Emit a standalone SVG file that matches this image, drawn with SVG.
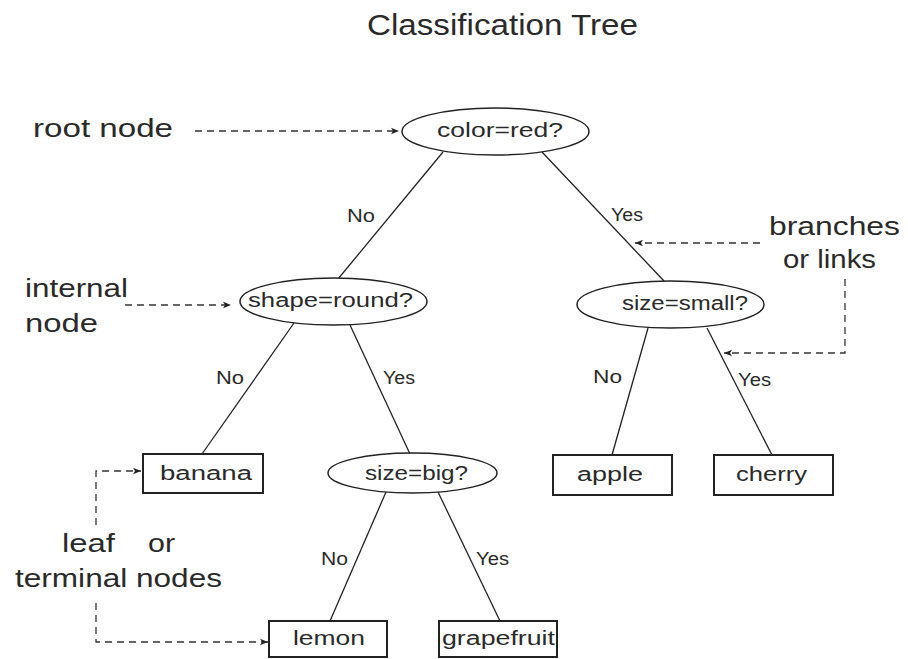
<svg xmlns="http://www.w3.org/2000/svg" width="908" height="659" viewBox="0 0 908 659">
  <defs>
    <marker id="arrow" viewBox="0 0 10 10" refX="10" refY="5" markerWidth="8" markerHeight="8" markerUnits="userSpaceOnUse" orient="auto">
      <path d="M0,1 L10,5 L0,9 L2.5,5 Z" fill="#222"/>
    </marker>
    <style>
      text { font-family: "Liberation Sans", Arial, sans-serif; fill: #2a2a2a; }
      .title { font-size: 29px; }
      .note { font-size: 25px; }
      .node-text { font-size: 20px; }
      .edge-text { font-size: 18px; }
      .decision { fill: #fff; stroke: #222; stroke-width: 1.5; }
      .leaf { fill: #fff; stroke: #222; stroke-width: 2; }
      .branch { stroke: #222; stroke-width: 1.3; fill: none; }
      .pointer { stroke: #333; stroke-width: 1.3; fill: none; stroke-dasharray: 7 5; marker-end: url(#arrow); }
    </style>
  </defs>

  <rect width="908" height="659" fill="#fff"/>

  <text class="title" x="367" y="35" textLength="271" lengthAdjust="spacingAndGlyphs">Classification Tree</text>

  <!-- tree branches -->
  <g id="connectors">
    <line class="branch" x1="443" y1="152" x2="338" y2="279"/>
    <line class="branch" x1="542" y1="152" x2="664" y2="281"/>
    <line class="branch" x1="294" y1="323" x2="202" y2="454"/>
    <line class="branch" x1="350" y1="325" x2="410" y2="454"/>
    <line class="branch" x1="648" y1="328" x2="612" y2="455"/>
    <line class="branch" x1="707" y1="328" x2="772" y2="455"/>
    <line class="branch" x1="386" y1="492" x2="330" y2="621"/>
    <line class="branch" x1="438" y1="492" x2="500" y2="621"/>

    <text class="edge-text" x="347" y="222" textLength="28" lengthAdjust="spacingAndGlyphs">No</text>
    <text class="edge-text" x="611" y="221" textLength="32" lengthAdjust="spacingAndGlyphs">Yes</text>
    <text class="edge-text" x="216" y="384" textLength="28" lengthAdjust="spacingAndGlyphs">No</text>
    <text class="edge-text" x="383" y="384" textLength="32" lengthAdjust="spacingAndGlyphs">Yes</text>
    <text class="edge-text" x="593" y="383" textLength="29" lengthAdjust="spacingAndGlyphs">No</text>
    <text class="edge-text" x="738" y="386" textLength="33" lengthAdjust="spacingAndGlyphs">Yes</text>
    <text class="edge-text" x="321" y="565" textLength="27" lengthAdjust="spacingAndGlyphs">No</text>
    <text class="edge-text" x="476" y="565" textLength="33" lengthAdjust="spacingAndGlyphs">Yes</text>
  </g>

  <!-- annotation pointers -->
  <g id="annotations">
    <line class="pointer" x1="195" y1="131" x2="399" y2="131"/>
    <line class="pointer" x1="125" y1="305" x2="231" y2="305"/>
    <line class="pointer" x1="760" y1="243" x2="635" y2="243"/>
    <path class="pointer" d="M845,279 V353 H724"/>
    <path class="pointer" d="M96,525 V471 H141"/>
    <path class="pointer" d="M96,603 V642 H268"/>

    <text class="note" x="33" y="137" textLength="140" lengthAdjust="spacingAndGlyphs">root node</text>
    <text class="note" x="25" y="297" textLength="103" lengthAdjust="spacingAndGlyphs">internal</text>
    <text class="note" x="25" y="332" textLength="73" lengthAdjust="spacingAndGlyphs">node</text>
    <text class="note" x="769" y="235" textLength="131" lengthAdjust="spacingAndGlyphs">branches</text>
    <text class="note" x="783" y="268" textLength="93" lengthAdjust="spacingAndGlyphs">or links</text>
    <text class="note" x="62" y="552" textLength="53" lengthAdjust="spacingAndGlyphs">leaf</text>
    <text class="note" x="148" y="552" textLength="27" lengthAdjust="spacingAndGlyphs">or</text>
    <text class="note" x="15" y="587" textLength="207" lengthAdjust="spacingAndGlyphs">terminal nodes</text>
  </g>

  <g id="node-color">
    <ellipse class="decision" cx="495.5" cy="131.5" rx="93.5" ry="23.5"/>
    <text class="node-text" x="437" y="137" textLength="126" lengthAdjust="spacingAndGlyphs">color=red?</text>
  </g>

  <g id="node-shape">
    <ellipse class="decision" cx="333.5" cy="301.5" rx="93.5" ry="23.5"/>
    <text class="node-text" x="248" y="307" textLength="165" lengthAdjust="spacingAndGlyphs">shape=round?</text>
  </g>

  <g id="node-size-small">
    <ellipse class="decision" cx="670.5" cy="304.5" rx="93.5" ry="23.5"/>
    <text class="node-text" x="622" y="310" textLength="126" lengthAdjust="spacingAndGlyphs">size=small?</text>
  </g>

  <g id="node-size-big">
    <ellipse class="decision" cx="412.5" cy="473" rx="84.5" ry="20"/>
    <text class="node-text" x="365" y="480" textLength="103" lengthAdjust="spacingAndGlyphs">size=big?</text>
  </g>

  <g id="leaf-banana">
    <rect class="leaf" x="143" y="454" width="120" height="39"/>
    <text class="node-text" x="160" y="480" textLength="92" lengthAdjust="spacingAndGlyphs">banana</text>
  </g>

  <g id="leaf-apple">
    <rect class="leaf" x="553" y="455" width="119" height="40"/>
    <text class="node-text" x="577" y="481" textLength="66" lengthAdjust="spacingAndGlyphs">apple</text>
  </g>

  <g id="leaf-cherry">
    <rect class="leaf" x="714" y="455" width="119" height="40"/>
    <text class="node-text" x="736" y="481" textLength="71" lengthAdjust="spacingAndGlyphs">cherry</text>
  </g>

  <g id="leaf-lemon">
    <rect class="leaf" x="269" y="621" width="118" height="36"/>
    <text class="node-text" x="293" y="645" textLength="72" lengthAdjust="spacingAndGlyphs">lemon</text>
  </g>

  <g id="leaf-grapefruit">
    <rect class="leaf" x="439" y="621" width="118" height="36"/>
    <text class="node-text" x="442" y="645" textLength="113" lengthAdjust="spacingAndGlyphs">grapefruit</text>
  </g>
</svg>
